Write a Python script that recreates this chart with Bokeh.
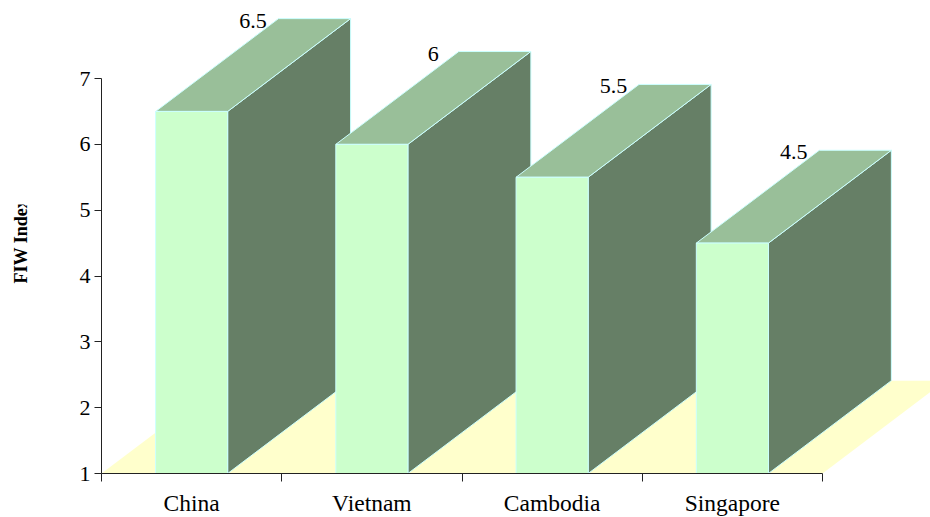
from bokeh.plotting import figure
from bokeh.embed import file_html
from bokeh.resources import INLINE
from bokeh.models import Range1d, FixedTicker, ColumnDataSource
from bokeh.core.properties import value
import math

categories = ["China", "Vietnam", "Cambodia", "Singapore"]
fiw_index = [6.5, 6, 5.5, 4.5]
value_labels = ["6.5", "6", "5.5", "4.5"]
y_ticks = [1, 2, 3, 4, 5, 6, 7]
y_title = "FIW Index"

FONT = "Liberation Serif"
BASE = 1
BAR_W = 0.4
DX = 0.682
DY = 1.41
FRONT, SIDE, TOP, FLOOR, EDGE = "#ccffcc", "#667f66", "#99bf99", "#ffffcc", "#ccffff"

# pixels per data unit, and the pixel position of the axes' origin
PX_X, PX_Y = 180.25, 65.83
X0_PX, Y0_PX = 101, 473
W, H = 930, 517


def xd(px):
    return (px - X0_PX) / PX_X


def yd(px):
    return BASE + (Y0_PX - px) / PX_Y


p = figure(frame_width=W, frame_height=H, output_backend="svg", toolbar_location=None,
           x_range=Range1d(xd(0), xd(W)), y_range=Range1d(yd(H), yd(0)),
           min_border_left=0, min_border_right=0, min_border_top=0, min_border_bottom=0,
           outline_line_color=None, background_fill_color="white", border_fill_color="white")
p.grid.visible = False

n = len(categories)
p.patch([0, n, n + DX, DX], [BASE, BASE, BASE + DY, BASE + DY], fill_color=FLOOR, line_color=None)

for i, v in enumerate(fiw_index):
    x0 = i + 0.5 - BAR_W / 2
    x1 = i + 0.5 + BAR_W / 2
    p.patch([x1, x1 + DX, x1 + DX, x1], [BASE, BASE + DY, v + DY, v],
            fill_color=SIDE, line_color=EDGE, line_width=1)
    p.patch([x0, x1, x1 + DX, x0 + DX], [v, v, v + DY, v + DY],
            fill_color=TOP, line_color=EDGE, line_width=1)
    p.patch([x0, x1, x1, x0], [BASE, BASE, v, v],
            fill_color=FRONT, line_color=EDGE, line_width=1)

src = ColumnDataSource(dict(
    x=[i + 0.5 + DX / 2 for i in range(n)],
    y=[v + DY for v in fiw_index],
    t=value_labels))
p.text("x", "y", text="t", source=src, text_font=value(FONT), text_font_size="22px",
       text_color="black", text_align="center", text_baseline="middle", y_offset=2)

# rotated axis title, its last letter cut off as in the reference
p.text([xd(20)], [yd(240.75)], text=[y_title], angle=math.pi / 2, text_font=value(FONT),
       text_font_style="bold", text_font_size="18px", text_color="black",
       text_align="center", text_baseline="middle")
p.quad(left=[xd(0)], right=[xd(40)], top=[yd(190)], bottom=[yd(204)],
       fill_color="white", line_color=None)

ax = p.xaxis[0]
ax.fixed_location = BASE
ax.bounds = (0, n)
ax.ticker = FixedTicker(ticks=[i + 0.5 for i in range(n)], minor_ticks=list(range(n + 1)))
ax.major_label_overrides = {i + 0.5: c for i, c in enumerate(categories)}
ax.major_tick_in = 0
ax.major_tick_out = 0
ax.minor_tick_in = 0
ax.minor_tick_out = 8
ax.major_label_standoff = 8
ax.major_label_text_font = FONT
ax.major_label_text_font_size = "23.5px"
ax.major_label_text_color = "black"
ax.axis_line_color = "#222222"
ax.minor_tick_line_color = "#222222"

ay = p.yaxis[0]
ay.fixed_location = 0
ay.bounds = (1, 7)
ay.ticker = FixedTicker(ticks=y_ticks)
ay.major_tick_in = 0
ay.major_tick_out = 7
ay.minor_tick_in = 0
ay.minor_tick_out = 0
ay.major_label_standoff = 4
ay.major_label_text_font = FONT
ay.major_label_text_font_size = "22px"
ay.major_label_text_color = "black"
ay.axis_line_color = "#222222"
ay.major_tick_line_color = "#222222"

open("out.html", "w").write(file_html(p, INLINE))
